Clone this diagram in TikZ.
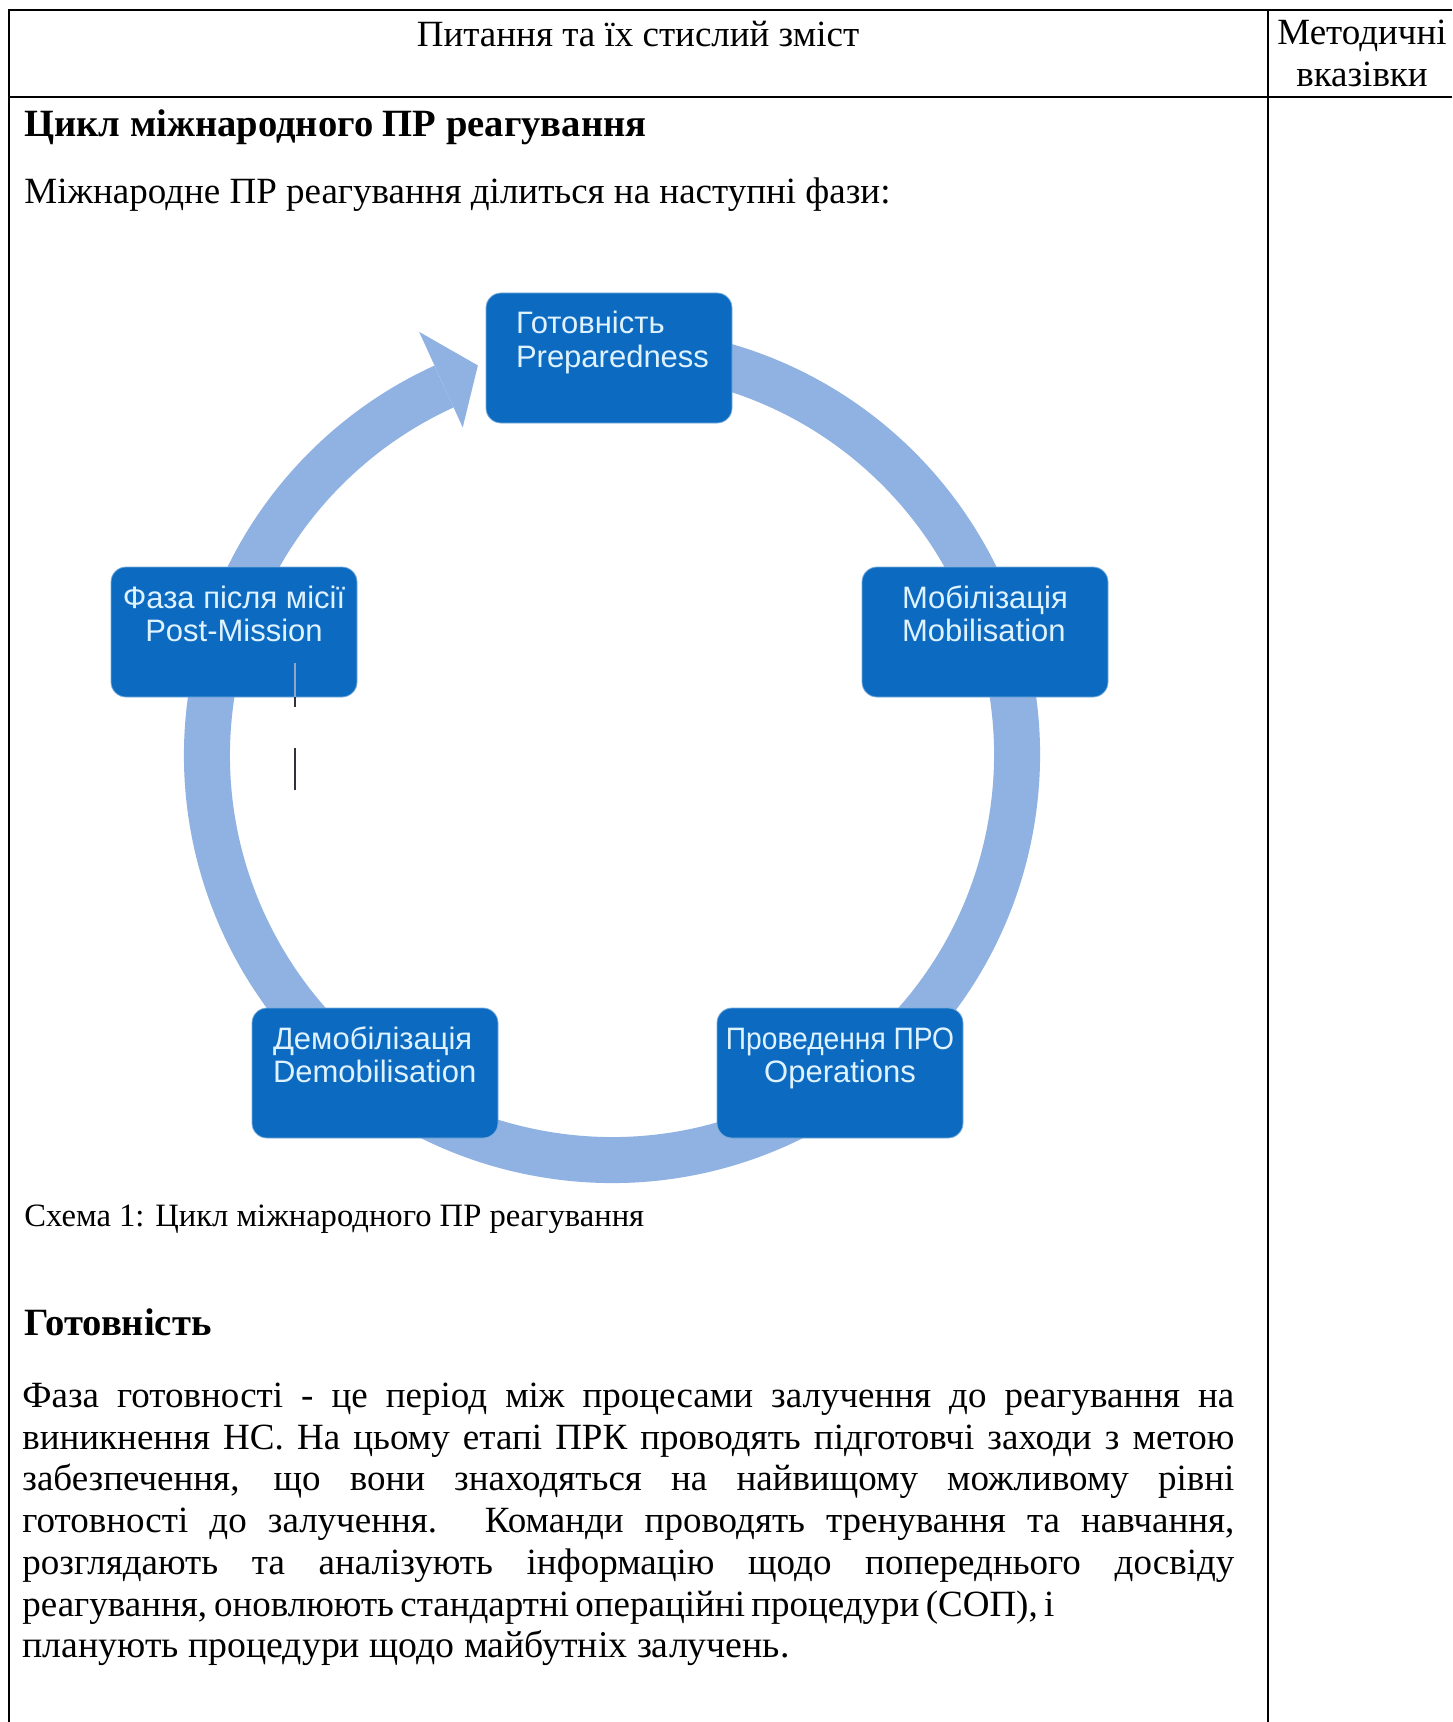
\documentclass[tikz,border=0pt]{standalone}
\usepackage{fontspec}
\usepackage{graphicx}
\setmainfont{Liberation Serif}
\newfontfamily\phasefont{Liberation Sans}
\usetikzlibrary{calc}
\definecolor{boxblue}{RGB}{12,106,192}
\definecolor{ringblue}{RGB}{143,178,226}
\definecolor{boxtext}{RGB}{222,242,255}
\definecolor{strayin}{RGB}{150,165,195}
\definecolor{strayout}{RGB}{50,50,60}
\begin{document}
\begin{tikzpicture}[x=0.5pt,y=-0.5pt,
  tableline/.style={line width=0.9pt, draw=black},
  bodytext/.style={font=\fontsize{18.5pt}{21pt}\selectfont, inner sep=0pt, anchor=base west},
  headtext/.style={font=\fontsize{18.5pt}{21pt}\selectfont, inner sep=0pt, anchor=base},
  titletext/.style={font=\fontsize{19.3pt}{22pt}\selectfont\bfseries, inner sep=0pt, anchor=base west},
  captext/.style={font=\fontsize{16.3pt}{19pt}\selectfont, inner sep=0pt, anchor=base west},
  phase/.style={fill=boxblue, draw=boxblue!55!white, line width=0.4pt, rounded corners=7.5pt, minimum width=123pt, minimum height=65pt, inner sep=0pt},
  phasetext/.style={font=\phasefont\fontsize{15.5pt}{18pt}\selectfont, text=boxtext, inner sep=0pt, anchor=base},
  phasetextl/.style={phasetext, anchor=base west},
  ringband/.style={draw=ringblue, line width=23pt},
  strayline/.style={line width=1pt}
]
\useasboundingbox (0,0) rectangle (1452,1722);
\fill[white] (0,0) rectangle (1452,1722);

% table frame
\draw[tableline] (9,1722) -- (9,10) -- (1452,10);
\draw[tableline] (9,97) -- (1452,97);
\draw[tableline] (1268,10) -- (1268,1722);

% header
\node[headtext] (hq) at (638,47) {Питання та їх стислий зміст};
\node[headtext] (hm1) at (1362,45) {Методичні};
\node[headtext] (hm2) at (1362,87) {вказівки};

% title and intro
\node[titletext] (title) at (24,137) {Цикл міжнародного ПР реагування};
\node[bodytext] (intro) at (24,204) {Міжнародне ПР реагування ділиться на наступні фази:};

% cycle ring
\coordinate (rc) at (612,755);
\draw[ringband] ([shift={(rc)}]-80:405) arc[start angle=-80, end angle=245.5, radius=405];
\fill[ringblue] ([shift={(rc)}]-114.5:360) -- ([shift={(rc)}]-109:412) -- ([shift={(rc)}]-114.5:465) -- cycle;

% phase boxes
\node[phase] (prep) at (609,358) {};
\node[phasetextl] (prep1) at ($(prep.west)+(30,-24)$) {Готовність};
\node[phasetextl] (prep2) at ($(prep.west)+(30,9)$) {Preparedness};

\node[phase] (mob) at (985,632) {};
\node[phasetextl] (mob1) at ($(mob.west)+(40,-24)$) {Мобілізація};
\node[phasetextl] (mob2) at ($(mob.west)+(40,9)$) {Mobilisation};

\node[phase] (ops) at (840,1073) {};
\node[phasetext] (ops1) at ($(ops.center)+(0,-24)$) {\scalebox{0.91}[1]{Проведення ПРО}};
\node[phasetext] (ops2) at ($(ops.center)+(0,9)$) {Operations};

\node[phase] (demob) at (375,1073) {};
\node[phasetextl] (demob1) at ($(demob.west)+(21,-24)$) {Демобілізація};
\node[phasetextl] (demob2) at ($(demob.west)+(21,9)$) {Demobilisation};

\node[phase] (post) at (234,632) {};
\node[phasetext] (post1) at ($(post.center)+(0,-24)$) {Фаза після місії};
\node[phasetext] (post2) at ($(post.center)+(0,9)$) {Post-Mission};

% stray marks
\coordinate (s1) at (295,663);
\coordinate (s2) at (295,697);
\coordinate (s3) at (295,707);
\coordinate (s4) at (295,748);
\coordinate (s5) at (295,790);
\draw[strayline, draw=strayin] (s1) -- (s2);
\draw[strayline, draw=strayout] (s2) -- (s3);
\draw[strayline, draw=strayout] (s4) -- (s5);

% caption
\node[captext] (cap) at (24,1226) {Схема 1: Цикл міжнародного ПР реагування};

% section
\node[titletext] (sec) at (24,1335) {Готовність};
\node[bodytext] (l1) at (22,1407) {\makebox[606pt][s]{Фаза готовності - це період між процесами залучення до реагування на}};
\node[bodytext] (l2) at (22,1449) {\makebox[606pt][s]{виникнення НС. На цьому етапі ПРК проводять підготовчі заходи з метою}};
\node[bodytext] (l3) at (22,1490) {\makebox[606pt][s]{забезпечення, що вони знаходяться на найвищому можливому рівні}};
\node[bodytext] (l4) at (22,1532) {\makebox[606pt][s]{готовності до залучення. Команди проводять тренування та навчання,}};
\node[bodytext] (l5) at (22,1574) {\makebox[606pt][s]{розглядають та аналізують інформацію щодо попереднього досвіду}};
\node[bodytext] (l6) at (22,1616) {\makebox[516pt][s]{реагування, оновлюють стандартні операційні процедури (СОП), і}};
\node[bodytext] (l7) at (22,1657) {\fontsize{18.9pt}{21pt}\selectfont планують процедури щодо майбутніх залучень.};
\end{tikzpicture}
\end{document}
